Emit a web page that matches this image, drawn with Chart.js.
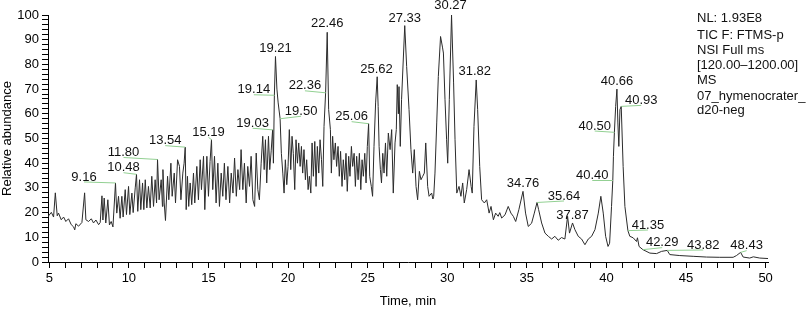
<!DOCTYPE html>
<html>
<head>
<meta charset="utf-8">
<script src="https://cdn.jsdelivr.net/npm/chart.js@4/dist/chart.umd.min.js"></script>
<style>
  html, body { margin: 0; padding: 0; background: #fff; }
  canvas { display: block; }
</style>
</head>
<body>
<canvas id="tic" width="809" height="309"></canvas>
<script>
// TIC trace: [time (min), relative abundance]
const trace = [
  [4.92,18.5],[4.96,18.7],[5.13,20.1],[5.27,18.2],[5.38,28],[5.5,18.7],[5.58,19.8],[5.75,17.1],[5.9,18.2],
  [6.04,16.4],[6.21,17.5],[6.38,15.1],[6.53,14.2],[6.6,13],[6.67,15.5],[6.84,14.5],[7.05,16],[7.22,28],
  [7.3,17.1],[7.47,16.4],[7.64,17.5],[7.78,15.8],[7.93,17],[8.1,15.1],[8.2,16],[8.31,26.8],[8.37,17],
  [8.45,25.9],[8.55,15.8],[8.68,25.2],[8.78,15],[8.89,16.4],[9.0,14.2],[9.16,32],[9.24,19.8],[9.35,26.6],
  [9.45,17.7],[9.56,26.6],[9.64,18.2],[9.77,29.3],[9.85,19.2],[9.98,30.6],[10.06,19.2],[10.19,27.9],
  [10.27,20],[10.4,30],[10.48,35.5],[10.56,20.5],[10.67,33.3],[10.75,21.2],[10.86,32],[10.94,21.2],
  [11.03,33.3],[11.13,21.9],[11.23,30.6],[11.34,21.9],[11.44,34.7],[11.55,22.5],[11.65,33.3],[11.74,23.9],
  [11.8,41.5],[11.9,25.2],[12.03,33.3],[12.11,22.5],[12.14,37.4],[12.22,23.9],[12.3,16.8],[12.43,34.7],
  [12.51,25.2],[12.64,40],[12.72,26.6],[12.85,36],[12.93,23.9],[13.06,41.4],[13.18,38.7],[13.27,25.2],
  [13.39,36],[13.47,40],[13.54,46.5],[13.6,21.2],[13.68,34.7],[13.76,22.5],[13.85,32],[13.95,23.2],
  [14.06,36],[14.14,23.9],[14.27,38.7],[14.37,25.2],[14.48,41.4],[14.56,29.3],[14.69,42.8],[14.77,21.2],
  [14.9,42.8],[15.0,26.6],[15.1,40.7],[15.19,49.5],[15.27,29.3],[15.38,42.8],[15.48,23.9],[15.59,40],
  [15.69,22.5],[15.8,36],[15.9,26.6],[16.0,40],[16.1,25.2],[16.22,38.7],[16.33,23.9],[16.43,36],
  [16.54,27.9],[16.64,42.1],[16.75,26.6],[16.85,37.4],[16.96,29.3],[17.05,45.5],[17.16,29.3],[17.26,40],
  [17.37,23.9],[17.47,38.7],[17.58,30.6],[17.68,42.8],[17.79,25.2],[17.9,22.5],[18.0,44.1],[18.1,29.3],
  [18.2,25.2],[18.31,40],[18.41,50.9],[18.5,37.4],[18.58,49.5],[18.66,32],[18.77,50.9],[18.85,37.4],
  [18.94,45],[19.03,53.5],[19.08,40],[19.14,67.5],[19.21,83.2],[19.3,70],[19.38,64.4],[19.5,58],
  [19.58,44],[19.67,36],[19.75,27.9],[19.83,41.4],[19.92,31.3],[20.0,38.7],[20.08,53.6],[20.17,37.4],
  [20.25,50.9],[20.33,44],[20.42,29.3],[20.5,49.5],[20.59,40],[20.67,48.2],[20.76,38.7],[20.84,46.8],
  [20.92,36],[21.0,45.5],[21.09,33.3],[21.17,41.4],[21.26,29.3],[21.34,34.7],[21.43,27.9],[21.51,48.2],
  [21.59,34.7],[21.68,48.8],[21.76,30.6],[21.84,46.8],[21.93,36],[22.01,49.5],[22.1,41.4],[22.18,30.6],
  [22.26,54.9],[22.36,68.5],[22.46,93],[22.55,61.7],[22.66,53.6],[22.72,36],[22.8,50.9],[22.88,41.4],
  [22.97,48.2],[23.05,38.7],[23.14,46.8],[23.22,34.7],[23.3,44.8],[23.39,30.6],[23.47,41.4],[23.56,33.3],
  [23.64,44],[23.72,28.6],[23.81,42.8],[23.89,34.7],[23.98,46.8],[24.06,38.7],[24.15,44],[24.23,30.6],
  [24.31,42.8],[24.4,33.3],[24.48,44],[24.57,29.3],[24.65,41.4],[24.73,34.7],[24.82,44],[24.9,32],
  [24.98,46.8],[25.06,56],[25.13,34.7],[25.23,30.6],[25.31,26.6],[25.4,46.8],[25.5,64.4],[25.6,75],
  [25.66,63],[25.72,46.8],[25.8,37.4],[25.87,32],[25.95,44],[26.03,36],[26.12,48.2],[26.2,34.7],
  [26.3,52.2],[26.41,45.5],[26.51,53.6],[26.61,27.9],[26.72,48.2],[26.8,53.6],[26.86,71.8],[26.93,60],
  [26.97,71],[27.05,46.8],[27.13,65.7],[27.33,95.7],[27.45,79.2],[27.6,61.7],[27.72,45.5],[27.83,36],
  [27.93,45.5],[28.04,30.6],[28.14,25.2],[28.25,36.7],[28.35,33.3],[28.46,34.7],[28.56,36],[28.65,48.2],
  [28.77,30.6],[28.86,26.6],[29.02,27.9],[29.1,25.5],[29.15,26.6],[29.23,36],[29.34,56.3],[29.44,75.1],
  [29.58,91.3],[29.7,87],[29.76,84.6],[29.86,65.7],[29.96,49.5],[30.03,40],[30.13,65.7],[30.27,100],
  [30.4,72.5],[30.49,49.5],[30.6,27.9],[30.74,30.6],[30.86,26.6],[30.97,32],[31.07,23.9],[31.22,29.3],
  [31.37,37.4],[31.5,30.6],[31.57,27.9],[31.68,54.9],[31.82,73.7],[31.91,61.7],[32.04,38.7],[32.16,25.2],
  [32.33,23.9],[32.48,25.2],[32.63,19.8],[32.75,22.5],[32.9,17.1],[33.04,19.8],[33.2,18.5],[33.3,20],
  [33.42,17.8],[33.63,19.1],[33.83,22.5],[34.0,19.8],[34.15,18.5],[34.3,16.4],[34.5,21.2],[34.76,28.6],
  [34.92,19.8],[35.09,14.4],[35.3,15.7],[35.47,19.8],[35.64,24.1],[35.74,21.2],[35.93,15.8],[36.14,11.7],
  [36.35,10.4],[36.56,9.3],[36.76,10.4],[36.97,8.8],[37.18,9.9],[37.39,9.3],[37.56,18.5],[37.68,11.7],
  [37.87,15.8],[38.02,13.1],[38.23,10.4],[38.44,9.3],[38.65,7],[38.86,9.3],[39.07,10.4],[39.28,13.1],
  [39.49,19.8],[39.65,26.6],[39.8,19.8],[39.95,10.4],[40.1,6.3],[40.2,7.6],[40.32,22.5],[40.4,33],
  [40.44,42.8],[40.5,52.5],[40.58,63],[40.66,70],[40.72,56.3],[40.78,46.8],[40.85,61.7],[40.93,63],
  [41.05,38.7],[41.16,22.5],[41.35,12.7],[41.47,10.4],[41.68,9.8],[41.89,8.3],[41.95,9.8],[42.05,6.3],
  [42.29,5],[42.73,3.6],[43.15,3.4],[43.46,4.3],[43.82,4.7],[43.98,3],[44.61,2.6],[45.45,2.3],
  [46.29,2],[47.12,1.9],[47.96,1.9],[48.17,2.6],[48.43,3.9],[48.59,2],[49.0,1.6],[49.23,2.1],
  [49.63,1.6],[50.15,1.4]
];

// labelled peaks
const peakTimes = [9.16, 10.48, 11.80, 13.54, 15.19, 19.03, 19.14, 19.21, 19.50, 22.36, 22.46, 25.06, 25.62,
  27.33, 30.27, 31.82, 34.76, 35.64, 37.87, 40.40, 40.50, 40.66, 40.93, 41.35, 42.29, 43.82, 48.43];
const peakValues = [32, 35.5, 41.5, 46.5, 49.5, 53.5, 67.5, 83.2, 58, 68.5, 93, 56, 75,
  95.7, 100, 73.7, 28.6, 24.1, 15.8, 33, 52.5, 70, 63, 12.7, 5, 4.7, 3.9];
const peakTexts = peakTimes.map(t => t.toFixed(2));

const infoLines = ['NL: 1.93E8', 'TIC F: FTMS-p', 'NSI Full ms', '[120.00\u20131200.00]', 'MS',
  '07_hymenocrater_', 'd20-neg'];

const xTitle = 'Time, min';
const yTitle = 'Relative abundance';

// where each peak label sits relative to its peak (px), and if a green leader is drawn
const labelPlacement = [
  [-31.5, -6, true], [-13, -6.6, true], [-34, -7, true], [-20, -6.5, true], [-3, -7.5, true],
  [-20, -6.6, true], [-20.5, -5.5, true], [0, -8, false], [21, -7.5, true], [-20.7, -7, true],
  [0, -9, false], [-17, -7, true], [-1, -7.5, false], [0, -7.3, false], [-1, -10, false],
  [-1.5, -9, false], [0, -8, false], [27, -6.5, true], [0, -8, false], [-20.5, -5, true],
  [-19.7, -6.3, true], [0, -7.4, false], [20, -6, true], [20, -5.6, true], [19.3, -7, true],
  [36, -5.4, true], [6, -6.7, true]
];
const infoY = [18, 35, 50.5, 65.7, 80.7, 96, 110.5];

const FONT = '13px "Liberation Sans", Arial, Helvetica, sans-serif';

const peakLabelPlugin = {
  id: 'peakLabels',
  afterDatasetsDraw(chart) {
    const ctx = chart.ctx;
    const xs = chart.scales.x, ys = chart.scales.y;
    ctx.save();
    ctx.font = FONT;
    ctx.textAlign = 'center';
    ctx.textBaseline = 'middle';
    peakTimes.forEach((t, i) => {
      const ax = xs.getPixelForValue(t);
      const ay = ys.getPixelForValue(peakValues[i]);
      const [dx, dy, leader] = labelPlacement[i];
      const tx = ax + dx, ty = ay + dy;
      if (leader) {
        ctx.strokeStyle = '#92d092';
        ctx.lineWidth = 1;
        ctx.beginPath();
        ctx.moveTo(tx, ty + 5);
        ctx.lineTo(ax, ay);
        ctx.stroke();
      }
      ctx.fillStyle = '#111';
      ctx.fillText(peakTexts[i], tx, ty);
    });
    // info block at top right
    ctx.textAlign = 'left';
    infoLines.forEach((line, i) => {
      ctx.fillText(line, 697, infoY[i]);
    });
    ctx.restore();
  }
};

new Chart(document.getElementById('tic'), {
  type: 'line',
  data: {
    datasets: [{
      data: trace.map(p => ({ x: p[0], y: p[1] })),
      borderColor: '#2b2b2b',
      borderWidth: 1,
      pointRadius: 0,
      tension: 0,
      fill: false,
      clip: false
    }]
  },
  options: {
    responsive: false,
    animation: false,
    devicePixelRatio: 1,
    layout: { padding: { top: 15, right: 41, left: 0, bottom: 0 } },
    plugins: { legend: { display: false }, tooltip: { enabled: false } },
    scales: {
      x: {
        type: 'linear',
        min: 4.92,
        max: 50.15,
        afterFit: s => { s.height = 47; },
        border: { display: true, color: '#000', width: 1 },
        grid: { drawOnChartArea: false, drawTicks: true, tickLength: 6, tickColor: '#000' },
        ticks: {
          stepSize: 1,
          includeBounds: false,
          autoSkip: false,
          maxRotation: 0,
          padding: 3,
          color: '#000',
          font: { family: '"Liberation Sans", Arial, sans-serif', size: 13 },
          callback: v => (v % 5 === 0 ? String(v) : '')
        },
        title: {
          display: true, text: xTitle, color: '#000', padding: 0,
          font: { family: '"Liberation Sans", Arial, sans-serif', size: 13 }
        }
      },
      y: {
        min: 0,
        max: 100,
        afterFit: s => { s.width = 48; },
        border: { display: true, color: '#000', width: 1 },
        grid: { drawOnChartArea: false, drawTicks: true, tickLength: 6, tickColor: '#000' },
        ticks: {
          stepSize: 2,
          autoSkip: false,
          padding: 3,
          color: '#000',
          font: { family: '"Liberation Sans", Arial, sans-serif', size: 13 },
          callback: v => (v % 10 === 0 ? String(v) : '')
        },
        title: {
          display: true, text: yTitle, color: '#000', padding: 0,
          font: { family: '"Liberation Sans", Arial, sans-serif', size: 13 }
        }
      }
    }
  },
  plugins: [peakLabelPlugin]
});
</script>
</body>
</html>
